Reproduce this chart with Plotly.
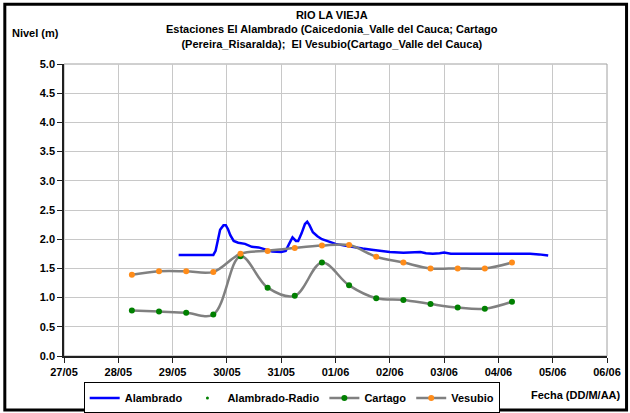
import plotly.graph_objects as go

# Alambrado (continuous level record)
alambrado_dates = [
    "2011-05-29 02:40", "2011-05-29 06:00", "2011-05-29 09:00", "2011-05-29 12:00",
    "2011-05-29 15:00", "2011-05-29 18:00", "2011-05-29 19:00", "2011-05-29 20:00",
    "2011-05-29 21:00", "2011-05-29 22:30", "2011-05-29 23:30", "2011-05-30 00:30",
    "2011-05-30 01:30", "2011-05-30 03:00", "2011-05-30 05:00", "2011-05-30 08:00",
    "2011-05-30 11:00", "2011-05-30 14:00", "2011-05-30 17:00", "2011-05-30 20:00",
    "2011-05-31 00:00", "2011-05-31 02:00", "2011-05-31 03:30", "2011-05-31 05:00",
    "2011-05-31 06:30", "2011-05-31 07:30", "2011-05-31 09:00", "2011-05-31 10:30",
    "2011-05-31 11:30", "2011-05-31 12:30", "2011-05-31 14:00", "2011-05-31 16:00",
    "2011-05-31 18:00", "2011-05-31 21:00", "2011-06-01 00:00", "2011-06-01 04:00",
    "2011-06-01 08:00", "2011-06-01 12:00", "2011-06-01 16:00", "2011-06-01 20:00",
    "2011-06-02 00:00", "2011-06-02 06:00", "2011-06-02 12:00", "2011-06-02 13:30",
    "2011-06-02 16:00", "2011-06-02 19:00", "2011-06-02 22:00", "2011-06-03 00:00",
    "2011-06-03 03:00", "2011-06-03 08:00", "2011-06-03 14:00", "2011-06-03 20:00",
    "2011-06-04 00:00", "2011-06-04 06:00", "2011-06-04 09:00", "2011-06-04 14:00",
    "2011-06-04 18:00", "2011-06-04 22:00",
]
alambrado_levels = [
    1.73, 1.73, 1.72, 1.73,
    1.72, 1.73, 1.80, 2.00,
    2.16, 2.24, 2.24, 2.17,
    2.07, 1.97, 1.94, 1.92,
    1.87, 1.86, 1.83, 1.79,
    1.78, 1.80, 1.92, 2.03,
    1.97, 1.97, 2.10, 2.26,
    2.30, 2.24, 2.12, 2.05,
    2.00, 1.96, 1.92, 1.89,
    1.86, 1.84, 1.82, 1.80,
    1.78, 1.77, 1.77, 1.78,
    1.76, 1.75, 1.76, 1.77,
    1.75, 1.75, 1.75, 1.75,
    1.75, 1.75, 1.76, 1.75,
    1.74, 1.72,
]

# Alambrado-Radio (legend entry only, no readings plotted)
radio_dates = [None]
radio_levels = [None]

# Cartago and Vesubio (twice-daily readings)
station_dates = [
    "2011-05-28 06:00", "2011-05-28 18:00", "2011-05-29 06:00", "2011-05-29 18:00",
    "2011-05-30 06:00", "2011-05-30 18:00", "2011-05-31 06:00", "2011-05-31 18:00",
    "2011-06-01 06:00", "2011-06-01 18:00", "2011-06-02 06:00", "2011-06-02 18:00",
    "2011-06-03 06:00", "2011-06-03 18:00", "2011-06-04 06:00",
]
cartago_levels = [0.78, 0.76, 0.74, 0.71, 1.71, 1.17, 1.03, 1.60,
                  1.21, 0.99, 0.96, 0.89, 0.83, 0.81, 0.93]
vesubio_levels = [1.39, 1.45, 1.45, 1.44, 1.75, 1.80, 1.85, 1.89,
                  1.90, 1.70, 1.60, 1.50, 1.50, 1.50, 1.60]

FONT = "Arial"
GRID = "#c8c8c8"
BOLD = dict(size=11, color="#000000", family=FONT, weight=700)

fig = go.Figure()

fig.add_trace(go.Scatter(
    x=alambrado_dates, y=alambrado_levels, name="Alambrado", mode="lines",
    line=dict(color="#0000ff", width=2.5),
))
fig.add_trace(go.Scatter(
    x=radio_dates, y=radio_levels, name="Alambrado-Radio", mode="markers",
    marker=dict(color="#008000", size=3),
))
fig.add_trace(go.Scatter(
    x=station_dates, y=cartago_levels, name="Cartago", mode="lines+markers",
    line=dict(color="#808080", width=2.5, shape="spline", smoothing=1),
    marker=dict(color="#008000", size=6),
))
fig.add_trace(go.Scatter(
    x=station_dates, y=vesubio_levels, name="Vesubio", mode="lines+markers",
    line=dict(color="#808080", width=2.5, shape="spline", smoothing=1),
    marker=dict(color="#ff8c1a", size=6),
))

fig.update_xaxes(
    type="date", range=["2011-05-27", "2011-06-06"],
    tick0="2011-05-27", dtick=86400000, tickformat="%d/%m",
    showgrid=True, gridcolor=GRID, gridwidth=1,
    showline=True, linecolor="#202020", linewidth=1.5,
    ticks="outside", ticklen=5, tickcolor="#202020",
    tickfont=BOLD, zeroline=False, automargin=False,
)
fig.update_yaxes(
    range=[0, 5], dtick=0.5, tickformat=".1f",
    showgrid=True, gridcolor=GRID, gridwidth=1,
    showline=True, linecolor="#202020", linewidth=1.5,
    ticks="outside", ticklen=5, tickcolor="#202020",
    tickfont=BOLD, zeroline=False, automargin=False,
)

fig.update_layout(
    width=630, height=413,
    margin=dict(l=64, r=23, t=64, b=57),
    paper_bgcolor="white", plot_bgcolor="white",
    font=dict(family=FONT, size=11, color="#000000"),
    showlegend=True,
    legend=dict(
        orientation="h", xref="container", yref="container",
        x=0.463, xanchor="center", y=0.074, yanchor="top",
        bordercolor="#000000", borderwidth=1, bgcolor="white",
        font=BOLD, itemwidth=30, tracegroupgap=0,
    ),
    annotations=[
        dict(text="RIO LA VIEJA<br>Estaciones El Alambrado (Caicedonia_Valle del Cauca; Cartago"
                  "<br>(Pereira_Risaralda);  El Vesubio(Cartago_Valle del Cauca)",
             xref="paper", yref="paper", x=0.494, y=1.195,
             xanchor="center", yanchor="top", showarrow=False, font=BOLD),
        dict(text="Nivel (m)", xref="paper", yref="paper", x=-0.1, y=1.106,
             xanchor="left", yanchor="middle", showarrow=False, font=BOLD),
        dict(text="Fecha (DD/M/AA)", xref="paper", yref="paper", x=1.03, y=-0.135,
             xanchor="right", yanchor="middle", showarrow=False, font=BOLD),
    ],
    shapes=[
        # grey plot-area outline (top and right edges)
        dict(type="rect", xref="paper", yref="paper", x0=0, x1=1, y0=0, y1=1,
             line=dict(color="#a0a0a0", width=1), fillcolor="rgba(0,0,0,0)", layer="below"),
        # black frame around the whole chart
        dict(type="rect", xref="paper", yref="paper",
             x0=-0.109, x1=1.036, y0=-0.185, y1=1.205,
             line=dict(color="#000000", width=3), fillcolor="rgba(0,0,0,0)"),
    ],
)

# the page body has a default 8px margin; drop it so the figure sits at the window corner
fig.write_html(
    "out.html",
    config={"displayModeBar": False},
    post_script="document.body.style.margin = '0';",
)
